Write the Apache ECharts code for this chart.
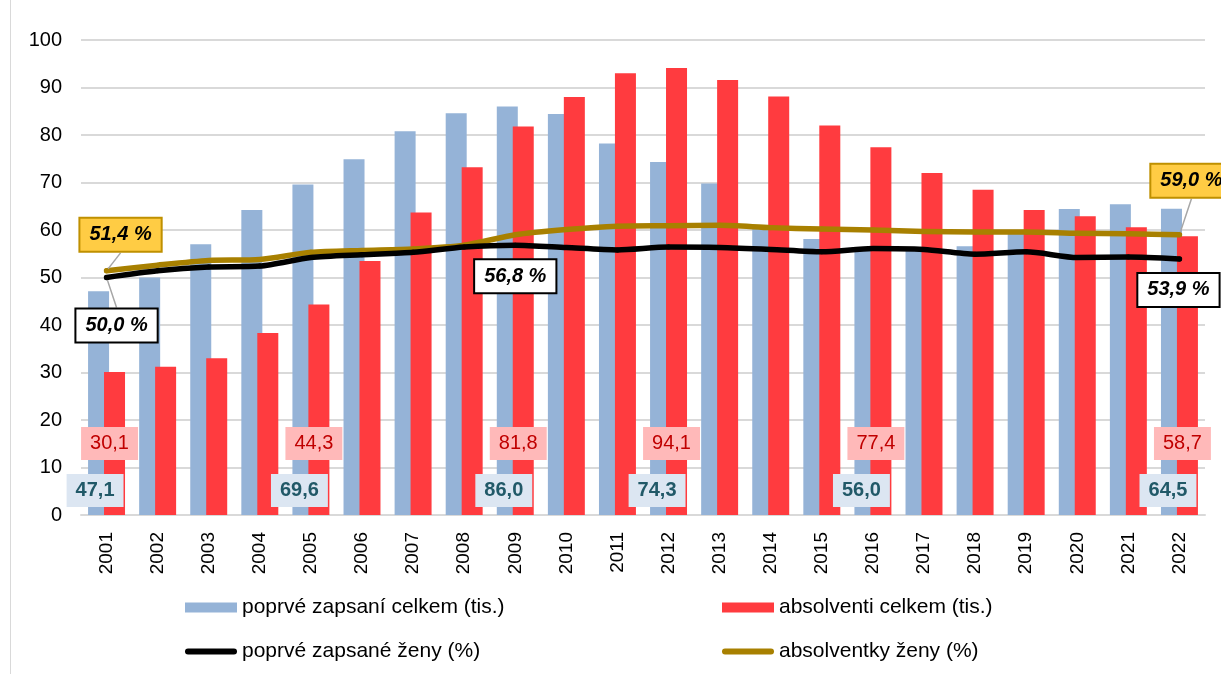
<!DOCTYPE html>
<html>
<head>
<meta charset="utf-8">
<script src="https://cdn.jsdelivr.net/npm/echarts@6/dist/echarts.min.js"></script>
<style>
  html, body { margin: 0; padding: 0; background: #ffffff; }
  #chart { width: 1221px; height: 674px; }
</style>
</head>
<body>
<div id="chart"></div>
<script>
// Years on the category axis
const years = ['2001','2002','2003','2004','2005','2006','2007','2008','2009','2010','2011',
               '2012','2013','2014','2015','2016','2017','2018','2019','2020','2021','2022'];

// First-time enrolled students in total (thousands)
const enrolledTotal = [47.1, 50.0, 57.0, 64.2, 69.6, 74.9, 80.8, 84.6, 86.0, 84.4, 78.2,
                       74.3, 69.8, 60.5, 58.1, 56.0, 55.8, 56.6, 59.5, 64.4, 65.4, 64.5];

// Graduates in total (thousands)
const graduatesTotal = [30.1, 31.2, 33.0, 38.3, 44.3, 53.5, 63.7, 73.2, 81.8, 88.0, 93.0,
                        94.1, 91.6, 88.1, 82.0, 77.4, 72.0, 68.5, 64.2, 62.9, 60.6, 58.7];

// Share of women among first-time enrolled (%)
const enrolledWomen = [50.0, 51.4, 52.2, 52.4, 54.2, 54.8, 55.3, 56.4, 56.8, 56.3, 55.8,
                       56.4, 56.3, 55.9, 55.4, 56.1, 55.9, 54.9, 55.4, 54.2, 54.3, 53.9];

// Share of women among graduates (%)
const graduatesWomen = [51.4, 52.6, 53.6, 53.8, 55.3, 55.7, 56.0, 56.8, 59.0, 60.1, 60.8,
                        60.9, 61.0, 60.5, 60.2, 60.0, 59.7, 59.6, 59.6, 59.3, 59.2, 59.0];

// Y axis ticks
const yMin = 0, yMax = 100, yStep = 10;

// Which points carry a value label
const barLabelYears = ['2001', '2005', '2009', '2012', '2016', '2022'];
const enrolledWomenLabelYears = ['2001', '2009', '2022'];
const graduatesWomenLabelYears = ['2001', '2022'];

const seriesNames = {
  enrolled: 'poprvé zapsaní celkem (tis.)',
  graduates: 'absolventi celkem (tis.)',
  enrolledWomen: 'poprvé zapsané ženy (%)',
  graduatesWomen: 'absolventky ženy (%)'
};

const FONT = '"Liberation Sans", Arial, sans-serif';

// Thick rounded stroke used as the legend key of the two lines
const LINE_KEY = 'path://M3,0 H49 A3,3 0 0 1 49,6 H3 A3,3 0 0 1 3,0 Z';

// Label placement offsets for the percentage callouts (pixels from the point)
const calloutShift = {
  enrolledWomen: { '2001': [10, 48], '2009': [0, 31], '2022': [-1, 31] },
  graduatesWomen: { '2001': [14, -36], '2022': [12, -54] }
};
const calloutLeader = {
  enrolledWomen: { '2001': true },
  graduatesWomen: { '2001': true, '2022': true }
};

const fmt = v => v.toFixed(1).replace('.', ',');

function barData(values) {
  return values.map((v, i) => ({
    value: v,
    label: { show: barLabelYears.indexOf(years[i]) >= 0 }
  }));
}

function lineData(values, labelYears, leaders) {
  return values.map((v, i) => ({
    value: v,
    label: { show: labelYears.indexOf(years[i]) >= 0 },
    labelLine: { show: !!leaders[years[i]] }
  }));
}

function shiftLayout(shifts) {
  return function (p) {
    const s = shifts[years[p.dataIndex]];
    return s ? { dx: s[0], dy: s[1] } : {};
  };
}

const legendBase = {
  orient: 'vertical',
  top: 597,
  padding: 0,
  itemWidth: 52,
  itemHeight: 10,
  itemGap: 23,
  textStyle: { fontSize: 21, color: '#000000', fontFamily: FONT }
};

const chart = echarts.init(document.getElementById('chart'), null, { renderer: 'canvas' });

chart.setOption({
  backgroundColor: '#ffffff',
  animation: false,
  textStyle: { fontFamily: FONT },
  graphic: [{
    type: 'line',
    shape: { x1: 10.5, y1: 0, x2: 10.5, y2: 674 },
    style: { stroke: '#D9D9D9', lineWidth: 1 },
    silent: true
  }],
  grid: { left: 81, right: 16, top: 40, bottom: 159, containLabel: false },
  legend: [Object.assign({}, legendBase, {
    left: 185,
    data: [
      { name: seriesNames.enrolled, icon: 'rect' },
      { name: seriesNames.enrolledWomen, icon: LINE_KEY, itemStyle: { color: '#000000' } }
    ]
  }), Object.assign({}, legendBase, {
    left: 722,
    data: [
      { name: seriesNames.graduates, icon: 'rect' },
      { name: seriesNames.graduatesWomen, icon: LINE_KEY, itemStyle: { color: '#A88000' } }
    ]
  })],
  xAxis: {
    type: 'category',
    data: years,
    axisLine: { lineStyle: { color: '#D9D9D9', width: 2 } },
    axisTick: { show: false },
    axisLabel: {
      rotate: 90,
      margin: 17,
      fontSize: 19,
      color: '#000000',
      fontFamily: FONT
    }
  },
  yAxis: {
    type: 'value',
    min: yMin,
    max: yMax,
    interval: yStep,
    axisLine: { show: false },
    axisTick: { show: false },
    axisLabel: { fontSize: 20, color: '#000000', margin: 19, fontFamily: FONT },
    splitLine: { lineStyle: { color: '#D9D9D9', width: 2 } }
  },
  series: [{
    name: seriesNames.enrolled,
    type: 'bar',
    data: barData(enrolledTotal),
    barWidth: 21,
    barGap: '-24%',
    itemStyle: { color: '#95B3D7' },
    label: {
      position: 'insideBottom',
      distance: 8,
      offset: [-3.5, 0],
      formatter: p => fmt(p.value),
      fontSize: 20,
      fontWeight: 'bold',
      color: '#215968',
      backgroundColor: '#DCE6F2',
      padding: [5, 9, 5, 9],
      lineHeight: 23,
      overflow: 'none',
      fontFamily: FONT
    },
    z: 2
  }, {
    name: seriesNames.graduates,
    type: 'bar',
    data: barData(graduatesTotal),
    barWidth: 21,
    barGap: '-24%',
    itemStyle: { color: '#FF3B3F' },
    label: {
      position: 'insideBottom',
      distance: 55,
      offset: [-5, 0],
      formatter: p => fmt(p.value),
      fontSize: 20,
      color: '#C00000',
      backgroundColor: '#FFB9B9',
      padding: [5, 9, 5, 9],
      lineHeight: 23,
      overflow: 'none',
      fontFamily: FONT
    },
    z: 2
  }, {
    name: seriesNames.enrolledWomen,
    type: 'line',
    data: lineData(enrolledWomen, enrolledWomenLabelYears, calloutLeader.enrolledWomen),
    smooth: 0.25,
    symbol: 'circle',
    symbolSize: 5,
    showSymbol: true,
    itemStyle: { color: '#000000' },
    lineStyle: { color: '#000000', width: 5.5, cap: 'round', join: 'round' },
    label: {
      position: 'inside',
      formatter: p => fmt(p.value) + ' %',
      fontSize: 20,
      fontWeight: 'bold',
      fontStyle: 'italic',
      color: '#000000',
      backgroundColor: '#ffffff',
      borderColor: '#000000',
      borderWidth: 2,
      padding: [5, 9, 5, 9],
      lineHeight: 22,
      fontFamily: FONT
    },
    labelLine: { lineStyle: { color: '#A6A6A6', width: 1.5 } },
    labelLayout: shiftLayout(calloutShift.enrolledWomen),
    z: 5
  }, {
    name: seriesNames.graduatesWomen,
    type: 'line',
    data: lineData(graduatesWomen, graduatesWomenLabelYears, calloutLeader.graduatesWomen),
    smooth: 0.25,
    symbol: 'circle',
    symbolSize: 5,
    showSymbol: true,
    itemStyle: { color: '#A88000' },
    lineStyle: { color: '#A88000', width: 5.5, cap: 'round', join: 'round' },
    label: {
      position: 'inside',
      formatter: p => fmt(p.value) + ' %',
      fontSize: 20,
      fontWeight: 'bold',
      fontStyle: 'italic',
      color: '#000000',
      backgroundColor: '#FFCC44',
      borderColor: '#BF9000',
      borderWidth: 2,
      padding: [5, 9, 5, 9],
      lineHeight: 22,
      fontFamily: FONT
    },
    labelLine: { lineStyle: { color: '#A6A6A6', width: 1.5 } },
    labelLayout: shiftLayout(calloutShift.graduatesWomen),
    z: 4
  }]
});
</script>
</body>
</html>
